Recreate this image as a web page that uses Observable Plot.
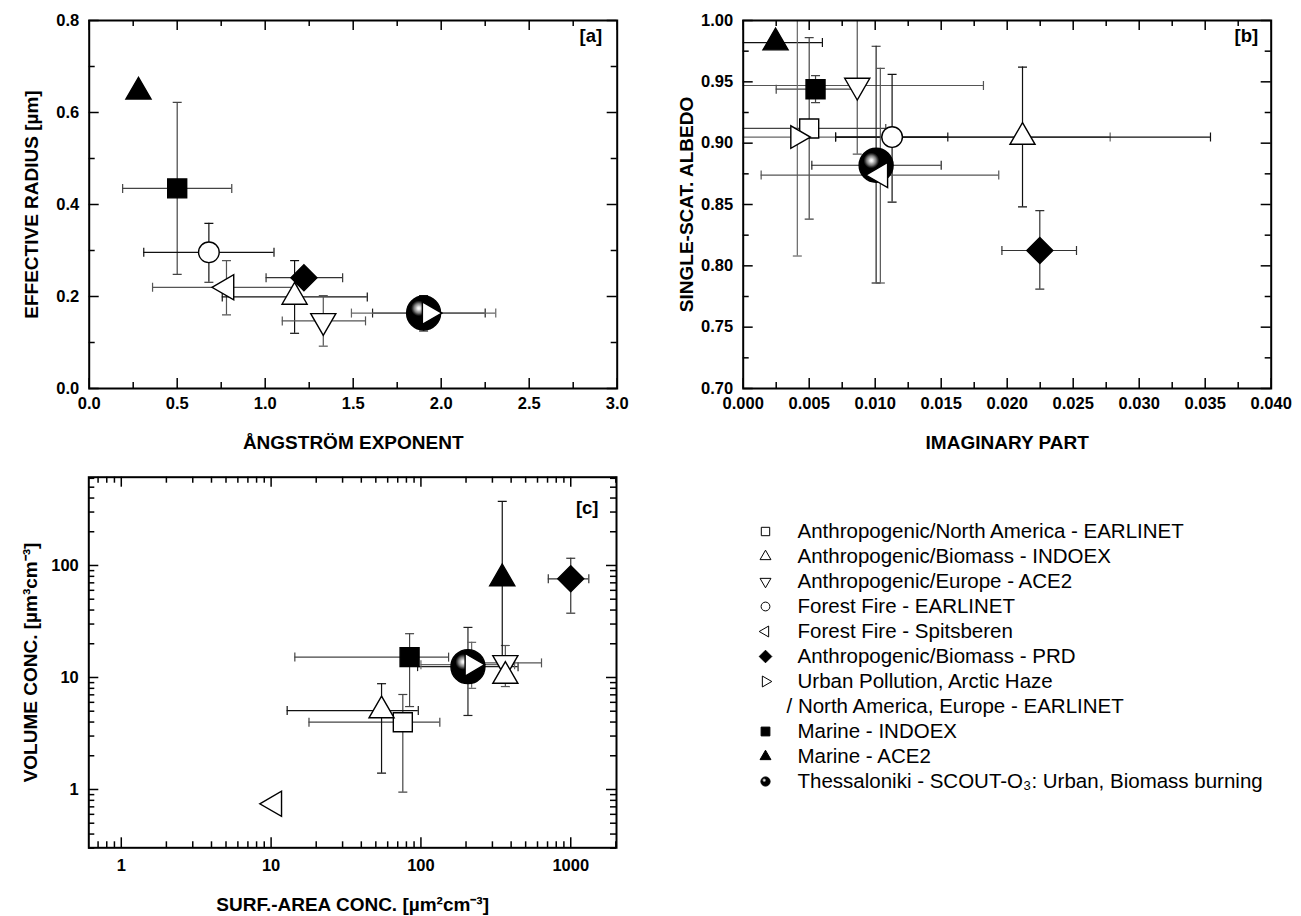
<!DOCTYPE html>
<html><head><meta charset="utf-8">
<script src="https://cdn.jsdelivr.net/npm/d3@7"></script>
<script src="https://cdn.jsdelivr.net/npm/@observablehq/plot@0.6"></script>
<style>
body{margin:0;background:#fff;}
#root{position:relative;width:1301px;height:916px;overflow:hidden;font-family:"Liberation Sans",Arial,sans-serif;}
#root svg{position:absolute;overflow:visible;}
</style></head><body><div id="root"></div>
<script>
// ---------------- DATA ----------------
// Series keys (legend order)
const legendKeys = ["NA_EARL","BIO_INDOEX","EU_ACE2","FF_EARL","FF_SPITS","PRD","URBAN","URBAN2","MAR_INDOEX","MAR_ACE2","THESS"];
const legendLabels = [
  "Anthropogenic/North America - EARLINET",
  "Anthropogenic/Biomass - INDOEX",
  "Anthropogenic/Europe - ACE2",
  "Forest Fire - EARLINET",
  "Forest Fire - Spitsberen",
  "Anthropogenic/Biomass - PRD",
  "Urban Pollution, Arctic Haze",
  "/ North America, Europe - EARLINET",
  "Marine - INDOEX",
  "Marine - ACE2",
  "Thessaloniki - SCOUT-O\u2083: Urban, Biomass burning"
];

// Panel [a]: Angstrom exponent vs effective radius
const aSeries = ["MAR_ACE2","MAR_INDOEX","FF_EARL","FF_SPITS","BIO_INDOEX","PRD","EU_ACE2","THESS","URBAN"];
const aX   = [0.28, 0.50, 0.68, 0.78, 1.167, 1.22, 1.33, 1.90, 1.93];
const aXlo = [null, 0.19, 0.31, 0.36, 0.756, 1.005, 1.097, 1.61, 1.49];
const aXhi = [null, 0.81, 1.05, 1.18, 1.58, 1.44, 1.57, 2.25, 2.31];
const aY   = [0.645, 0.435, 0.296, 0.220, 0.199, 0.241, 0.147, 0.164, 0.164];
const aYlo = [null, 0.248, 0.231, 0.160, 0.120, null, 0.092, 0.125, null];
const aYhi = [null, 0.622, 0.359, 0.278, 0.278, null, 0.202, 0.202, null];

// Panel [b]: imaginary part vs single-scattering albedo
const bSeries = ["MAR_ACE2","MAR_INDOEX","EU_ACE2","NA_EARL","URBAN","FF_EARL","BIO_INDOEX","THESS","FF_SPITS","PRD"];
const bX   = [0.00245, 0.00548, 0.00864, 0.0050, 0.0041, 0.01128, 0.02116, 0.01007, 0.01039, 0.02247];
const bXlo = [-0.0011, 0.0025, -0.0010, -0.0008, -0.0196, 0.0070, 0.0070, 0.0052, 0.00136, 0.0196];
const bXhi = [0.0060, 0.0085, 0.0182, 0.0108, 0.0278, 0.0155, 0.0354, 0.0150, 0.01936, 0.02525];
const bY   = [0.982, 0.944, 0.947, 0.912, 0.905, 0.905, 0.905, 0.882, 0.874, 0.8125];
const bYlo = [null, 0.933, 0.891, 0.838, 0.808, 0.852, 0.848, 0.786, 0.786, 0.781];
const bYhi = [null, 0.955, 1.020, 0.986, 1.010, 0.956, 0.962, 0.979, 0.961, 0.845];

// Panel [c]: surface-area concentration vs volume concentration
const cSeries = ["FF_SPITS","NA_EARL","BIO_INDOEX","MAR_INDOEX","THESS","URBAN","EU_ACE2","BIO_INDOEX","MAR_ACE2","PRD"];
const cX   = [10.5, 75.7, 54.6, 84, 206, 218, 366, 366, 349, 1000];
const cXlo = [null, 17.9, 12.8, 14.4, 95, 100, 211, null, null, 708];
const cXhi = [null, 133.7, 96, 153, 445, 422, 638, null, null, 1320];
const cY   = [0.745, 3.99, 5.07, 15.2, 12.5, 13.0, 13.5, 10.3, 76.5, 76];
const cYlo = [null, 0.946, 1.40, 5.5, 4.58, 8.0, 8.3, null, 15.6, 37.5];
const cYhi = [null, 7.05, 8.8, 24.6, 28, 20.6, 19.3, null, 373, 116];

// Tick values
const aXMajor = [0, 0.5, 1.0, 1.5, 2.0, 2.5, 3.0], aXMinor = [0.25, 0.75, 1.25, 1.75, 2.25, 2.75];
const aYMajor = [0, 0.2, 0.4, 0.6, 0.8], aYMinor = [0.1, 0.3, 0.5, 0.7];
const bXMajor = [0, 0.005, 0.010, 0.015, 0.020, 0.025, 0.030, 0.035, 0.040];
const bXMinor = [0.0025, 0.0075, 0.0125, 0.0175, 0.0225, 0.0275, 0.0325, 0.0375];
const bYMajor = [0.70, 0.75, 0.80, 0.85, 0.90, 0.95, 1.00];
const bYMinor = [0.725, 0.775, 0.825, 0.875, 0.925, 0.975];
const cXMajor = [1, 10, 100, 1000];
const cXMinor = [0.7, 0.8, 0.9, 2, 3, 4, 5, 6, 7, 8, 9, 20, 30, 40, 50, 60, 70, 80, 90, 200, 300, 400, 500, 600, 700, 800, 900, 2000];
const cYMajor = [1, 10, 100];
const cYMinor = [0.3, 0.4, 0.5, 0.6, 0.7, 0.8, 0.9, 2, 3, 4, 5, 6, 7, 8, 9, 20, 30, 40, 50, 60, 70, 80, 90, 200, 300, 400, 500, 600];

// ---------------- SYMBOLS & STYLES ----------------
const rad = s => Math.sqrt(s / Math.PI);
function tri(a0) {
  return {draw(c, s) {
    const r = rad(s);
    for (let i = 0; i < 3; i++) {
      const a = a0 + i * 2 * Math.PI / 3, x = r * Math.cos(a), y = r * Math.sin(a);
      if (i) c.lineTo(x, y); else c.moveTo(x, y);
    }
    c.closePath();
  }};
}
const SYM = {
  square: {draw(c, s) { const r = rad(s); c.rect(-r, -r, 2 * r, 2 * r); }},
  circle: {draw(c, s) { const r = rad(s); c.moveTo(r, 0); c.arc(0, 0, r, 0, 2 * Math.PI); c.closePath(); }},
  diamond: {draw(c, s) { const r = rad(s); c.moveTo(0, -r); c.lineTo(r, 0); c.lineTo(0, r); c.lineTo(-r, 0); c.closePath(); }},
  up: tri(-Math.PI / 2), down: tri(Math.PI / 2), left: tri(Math.PI), right: tri(0),
  hcap: {draw(c, s) { const r = rad(s); c.moveTo(-r, 0); c.lineTo(r, 0); }},
  vcap: {draw(c, s) { const r = rad(s); c.moveTo(0, -r); c.lineTo(0, r); }}
};
const STYLE = {
  NA_EARL:    {sym: "square",  fill: "white", r: 9.5,  lr: 4.2, err: "#444"},
  BIO_INDOEX: {sym: "up",      fill: "white", r: 14.5, lr: 6.3, err: "#111"},
  EU_ACE2:    {sym: "down",    fill: "white", r: 14.5, lr: 6.3, err: "#555"},
  FF_EARL:    {sym: "circle",  fill: "white", r: 10.3, lr: 4.4, err: "#111"},
  FF_SPITS:   {sym: "left",    fill: "white", r: 14.5, lr: 6.3, err: "#555"},
  PRD:        {sym: "diamond", fill: "black", r: 13,   lr: 6.3, err: "#333"},
  URBAN:      {sym: "right",   fill: "white", r: 13,   lr: 6.3, err: "#666"},
  MAR_INDOEX: {sym: "square",  fill: "black", r: 9.5,  lr: 4.4, err: "#444"},
  MAR_ACE2:   {sym: "up",      fill: "black", r: 14.5, lr: 6.3, err: "#111"},
  THESS:      {sym: "circle",  fill: "url(#sphere)", r: 17, lr: 4.6, err: "#222"}
};

const FONT = "Liberation Sans, Arial, sans-serif";
const root = document.getElementById("root");
root.insertAdjacentHTML("beforeend",
  `<svg width="0" height="0" style="position:absolute;left:0;top:0"><defs>
    <radialGradient id="sphere" cx="0.36" cy="0.36" r="0.5" fx="0.36" fy="0.36">
      <stop offset="0" stop-color="#ffffff"/><stop offset="0.09" stop-color="#e6e6e6"/>
      <stop offset="0.18" stop-color="#b0b0b0"/><stop offset="0.28" stop-color="#7a7a7a"/>
      <stop offset="0.38" stop-color="#303030"/><stop offset="0.46" stop-color="#000"/>
      <stop offset="1" stop-color="#000"/>
    </radialGradient></defs></svg>`);

function place(svg, left, top) {
  svg.style.left = left + "px"; svg.style.top = top + "px";
  root.appendChild(svg);
}

function panel(cfg) {
  const ih = cfg.H - cfg.mT - cfg.mB, iw = cfg.W - cfg.mL - cfg.mR;
  const rows = cfg.series.map((k, i) => ({k, x: cfg.X[i], xlo: cfg.Xlo[i], xhi: cfg.Xhi[i], y: cfg.Y[i], ylo: cfg.Ylo[i], yhi: cfg.Yhi[i]}));
  const marks = [];
  // error bars
  for (const k of [...new Set(cfg.series)]) {
    const st = STYLE[k], rs = rows.filter(d => d.k === k);
    const hx = rs.filter(d => d.xlo != null), vy = rs.filter(d => d.ylo != null);
    const o = {stroke: st.err, strokeWidth: 1.2, clip: true};
    marks.push(
      Plot.ruleY(hx, {y: "y", x1: "xlo", x2: "xhi", ...o}),
      Plot.ruleX(vy, {x: "x", y1: "ylo", y2: "yhi", ...o}),
      Plot.dot(hx, {x: "xlo", y: "y", symbol: SYM.vcap, r: 4.5, fill: "none", ...o}),
      Plot.dot(hx, {x: "xhi", y: "y", symbol: SYM.vcap, r: 4.5, fill: "none", ...o}),
      Plot.dot(vy, {x: "x", y: "ylo", symbol: SYM.hcap, r: 4.5, fill: "none", ...o}),
      Plot.dot(vy, {x: "x", y: "yhi", symbol: SYM.hcap, r: 4.5, fill: "none", ...o})
    );
  }
  // markers (array order = drawing order)
  for (const d of rows) {
    const st = STYLE[d.k];
    marks.push(Plot.dot([d], {x: "x", y: "y", symbol: SYM[st.sym], r: st.r, fill: st.fill, stroke: "black", strokeWidth: 1.4}));
  }
  // inward ticks on all four sides
  const to = {stroke: "black", strokeWidth: 1.5};
  for (const [vals, len] of [[cfg.xMajor, 10], [cfg.xMinor, 6]]) {
    marks.push(Plot.tickX(vals, {x: d => d, insetTop: ih - len, ...to}));
    marks.push(Plot.tickX(vals, {x: d => d, insetBottom: ih - len, ...to}));
  }
  for (const [vals, len] of [[cfg.yMajor, 10], [cfg.yMinor, 6]]) {
    marks.push(Plot.tickY(vals, {y: d => d, insetRight: iw - len, ...to}));
    marks.push(Plot.tickY(vals, {y: d => d, insetLeft: iw - len, ...to}));
  }
  marks.push(Plot.frame({stroke: "black", strokeWidth: 2}));
  // tick labels
  const lo = {fontSize: 16.5, fontWeight: "bold", fill: "black", fontFamily: FONT};
  marks.push(Plot.text(cfg.xMajor, {x: d => d, text: cfg.xFmt, frameAnchor: "bottom", lineAnchor: "top", textAnchor: "middle", dy: cfg.xPad, ...lo}));
  marks.push(Plot.text(cfg.yMajor, {y: d => d, text: cfg.yFmt, frameAnchor: "left", textAnchor: "end", lineAnchor: "middle", dx: -10, ...lo}));
  // titles
  const tt = {fontSize: 19, fontWeight: "bold", fill: "black", fontFamily: FONT, textAnchor: "middle", lineAnchor: "middle"};
  marks.push(Plot.text([cfg.xLabel], {frameAnchor: "bottom", dy: cfg.xTitleDy, ...tt}));
  marks.push(Plot.text([cfg.yLabel], {frameAnchor: "left", rotate: -90, dx: cfg.yTitleDx, ...tt}));
  marks.push(Plot.text([cfg.tag], {frameAnchor: "top-right", textAnchor: "end", lineAnchor: "middle", dx: cfg.tagDx, dy: cfg.tagDy, fontSize: 18.5, fontWeight: "bold", fill: "black", fontFamily: FONT}));
  const svg = Plot.plot({
    width: cfg.W, height: cfg.H,
    marginLeft: cfg.mL, marginRight: cfg.mR, marginTop: cfg.mT, marginBottom: cfg.mB,
    x: {type: cfg.xType, domain: cfg.xDomain, axis: null},
    y: {type: cfg.yType, domain: cfg.yDomain, axis: null},
    style: {background: "transparent", overflow: "visible", fontFamily: FONT},
    marks
  });
  place(svg, cfg.left, cfg.top);
}

const f1 = d => d.toFixed(1), f2 = d => d.toFixed(2), f3 = d => d.toFixed(3), f0 = d => String(d);

panel({left: 0, top: 0, W: 650, H: 460, mL: 88.7, mR: 33.3, mT: 20, mB: 72,
  xType: "linear", xDomain: [0, 3], yType: "linear", yDomain: [0, 0.8],
  series: aSeries, X: aX, Xlo: aXlo, Xhi: aXhi, Y: aY, Ylo: aYlo, Yhi: aYhi,
  xMajor: aXMajor, xMinor: aXMinor, yMajor: aYMajor, yMinor: aYMinor, xFmt: f1, yFmt: f1, xPad: 9,
  xLabel: "ÅNGSTRÖM EXPONENT", yLabel: "EFFECTIVE RADIUS [µm]", xTitleDy: 54, yTitleDx: -57,
  tag: "[a]", tagDx: -15, tagDy: 16});

panel({left: 650, top: 0, W: 651, H: 460, mL: 92.7, mR: 30.3, mT: 20, mB: 72,
  xType: "linear", xDomain: [0, 0.04], yType: "linear", yDomain: [0.70, 1.00],
  series: bSeries, X: bX, Xlo: bXlo, Xhi: bXhi, Y: bY, Ylo: bYlo, Yhi: bYhi,
  xMajor: bXMajor, xMinor: bXMinor, yMajor: bYMajor, yMinor: bYMinor, xFmt: f3, yFmt: f2, xPad: 9,
  xLabel: "IMAGINARY PART", yLabel: "SINGLE-SCAT. ALBEDO", xTitleDy: 54, yTitleDx: -56,
  tag: "[b]", tagDx: -13, tagDy: 16});

panel({left: 0, top: 460, W: 650, H: 456, mL: 88.3, mR: 34, mT: 16.7, mB: 68.7,
  xType: "log", xDomain: [0.607, 2020], yType: "log", yDomain: [0.3016, 614],
  series: cSeries, X: cX, Xlo: cXlo, Xhi: cXhi, Y: cY, Ylo: cYlo, Yhi: cYhi,
  xMajor: cXMajor, xMinor: cXMinor, yMajor: cYMajor, yMinor: cYMinor, xFmt: f0, yFmt: f0, xPad: 11,
  xLabel: "SURF.-AREA CONC. [µm²cm⁻³]", yLabel: "VOLUME CONC. [µm³cm⁻³]", xTitleDy: 57, yTitleDx: -58,
  tag: "[c]", tagDx: -18, tagDy: 31});

// ---------------- LEGEND ----------------
(function legend() {
  const rows = legendKeys.map((k, i) => ({k, label: legendLabels[i]}));
  const marks = [];
  for (const d of rows) {
    const st = STYLE[d.k];
    if (!st) continue;
    marks.push(Plot.dot([d], {y: "k", frameAnchor: "left", dx: 65, symbol: SYM[st.sym], r: st.lr,
      fill: st.fill, stroke: "black", strokeWidth: 1}));
  }
  const to = {fontSize: 20.5, fill: "black", fontFamily: FONT, textAnchor: "start", lineAnchor: "middle", frameAnchor: "left"};
  marks.push(Plot.text(rows.filter(d => d.k !== "URBAN2"), {y: "k", text: "label", dx: 97, ...to}));
  marks.push(Plot.text(rows.filter(d => d.k === "URBAN2"), {y: "k", text: "label", dx: 86, ...to}));
  const svg = Plot.plot({
    width: 601, height: 300, marginLeft: 0, marginRight: 0, marginTop: 29.3, marginBottom: 17.7,
    y: {type: "point", domain: legendKeys, padding: 0, axis: null},
    style: {background: "transparent", overflow: "visible", fontFamily: FONT},
    marks
  });
  place(svg, 700, 500);
})();
</script></body></html>
